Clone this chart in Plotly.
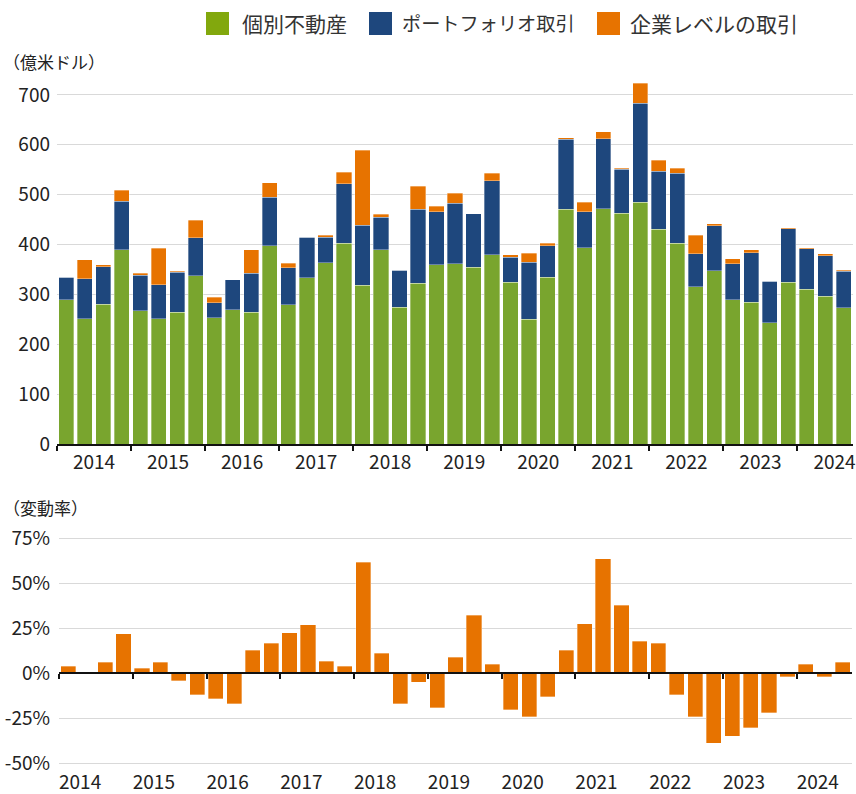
import plotly.graph_objects as go

# ---------------- data ----------------
years = [2014, 2015, 2016, 2017, 2018, 2019, 2020, 2021, 2022, 2023, 2024]
quarters = [f"{y}Q{q}" for y in years for q in range(1, 5)][:43]

individual = [289, 251, 280, 390, 267, 251, 264, 337, 253, 269, 264, 398,
              279, 333, 364, 403, 318, 390, 274, 322, 359, 361, 354, 380,
              324, 250, 334, 471, 394, 472, 463, 485, 431, 403, 315, 347,
              289, 284, 243, 324, 310, 296, 273]
portfolio = [45, 80, 75, 97, 71, 68, 80, 77, 30, 60, 78, 97,
             74, 82, 51, 119, 121, 65, 74, 149, 107, 122, 108, 148,
             51, 115, 64, 140, 72, 140, 88, 198, 116, 140, 67, 91,
             73, 100, 83, 108, 82, 82, 73]
entity = [0, 39, 4, 22, 4, 74, 2, 35, 11, 0, 48, 29,
          10, 0, 4, 23, 150, 6, 0, 46, 11, 20, 0, 15,
          5, 18, 5, 3, 19, 14, 2, 40, 22, 10, 37, 4,
          10, 6, 0, 2, 2, 4, 2]
change_pct = [3.9, 0.6, 5.9, 21.9, 2.8, 5.9, -4.3, -12.0, -14.3, -16.9,
              12.6, 16.5, 22.4, 26.9, 6.5, 3.9, 61.5, 10.9, -16.9, -5.0,
              -19.3, 8.9, 32.2, 5.0, -20.4, -24.3, -13.1, 12.6, 27.4, 63.5,
              37.8, 17.6, 16.5, -12.0, -24.3, -38.9, -35.0, -30.2, -21.9, -2.0,
              5.0, -2.0, 6.1]

series_names = ["個別不動産", "ポートフォリオ取引", "企業レベルの取引"]
top_ticks = [0, 100, 200, 300, 400, 500, 600, 700]
bottom_ticks = [-50, -25, 0, 25, 50, 75]
bottom_ticktext = [f"{v}%" for v in bottom_ticks]
top_title = "（億米ドル）"
bottom_title = "（変動率）"

# ---------------- styling / layout ----------------
GREEN = "#79a52e"
BLUE = "#1e477d"
ORANGE = "#e77300"
LEG_GREEN = "#82a80d"
GRID = "#d9d9d9"
AXIS = "#111111"
TXT = "#222222"
FONT = "Noto Sans CJK JP"

W, H = 856, 794
ML, MR, MT, MB = 57, 3, 80, 29
PW = W - ML - MR
PH = H - MT - MB


def px_x(p):
    return (p - ML) / PW


def px_y(p):
    return (H - MB - p) / PH


xs = list(range(len(quarters)))
year_starts = [i - 0.5 for i, q in enumerate(quarters) if q.endswith("Q1")]
year_labels = [q[:4] for q in quarters if q.endswith("Q1")]
year_centers = [b + 2 for b in year_starts]
XR = [-0.5, len(quarters) - 0.5]

Y1_RANGE = [0, 730]
Y2_RANGE = [-51, 80]
y1dom = [px_y(444), 1.0]
y2dom = [0.0, px_y(529)]
x2dom = [px_x(59), px_x(852)]
zero_pos = y2dom[0] + (0 - Y2_RANGE[0]) / (Y2_RANGE[1] - Y2_RANGE[0]) * (y2dom[1] - y2dom[0])

bar_line = dict(width=0.6, color="rgba(255,255,255,0.55)")

fig = go.Figure()
for vals, name, col in zip([individual, portfolio, entity], series_names, [GREEN, BLUE, ORANGE]):
    fig.add_trace(go.Bar(x=xs, y=vals, name=name, marker=dict(color=col, line=bar_line),
                         customdata=quarters, hovertemplate="%{customdata}: %{y}<extra>" + name + "</extra>",
                         xaxis="x", yaxis="y", showlegend=False))

fig.add_trace(go.Bar(x=xs, y=change_pct, name="変動率", marker=dict(color=ORANGE, line=bar_line),
                     customdata=quarters, hovertemplate="%{customdata}: %{y}%<extra></extra>",
                     xaxis="x2", yaxis="y2", showlegend=False))
# carrier for the zero-line axis
fig.add_trace(go.Scatter(x=[None], y=[None], xaxis="x3", yaxis="y2", showlegend=False, hoverinfo="skip"))

tickfont = dict(family=FONT, size=19, color=TXT)

fig.update_layout(
    width=W, height=H,
    margin=dict(l=ML, r=MR, t=MT, b=MB),
    paper_bgcolor="white", plot_bgcolor="white",
    barmode="stack", bargap=0.18,
    font=dict(family=FONT, color=TXT),
    showlegend=False,
    xaxis=dict(domain=[0, 1], range=XR, anchor="y", showgrid=False, zeroline=False,
               showline=True, linecolor=AXIS, linewidth=2,
               tickmode="array", tickvals=year_centers, ticktext=year_labels, ticks="",
               tickfont=tickfont, automargin=False,
               minor=dict(tickmode="array", tickvals=year_starts, ticks="outside", ticklen=5,
                          tickwidth=1.5, tickcolor=AXIS, showgrid=False)),
    yaxis=dict(domain=y1dom, range=Y1_RANGE, anchor="x", tickmode="array", tickvals=top_ticks,
               showgrid=True, gridcolor=GRID, gridwidth=1.2, zeroline=False, showline=False,
               ticks="", tickfont=tickfont, automargin=False, ticklabelstandoff=6),
    xaxis2=dict(domain=x2dom, range=XR, anchor="y2", showgrid=False, zeroline=False, showline=False,
                tickmode="array", tickvals=year_starts, ticktext=year_labels, ticks="",
                ticklabelposition="outside right", ticklabelstandoff=4,
                tickfont=tickfont, automargin=False),
    xaxis3=dict(domain=x2dom, range=XR, overlaying="x2", anchor="free", position=zero_pos,
                showgrid=False, zeroline=False, showline=True, linecolor=AXIS, linewidth=2,
                tickmode="array", tickvals=year_starts, ticks="outside", ticklen=5, tickwidth=1.5,
                tickcolor=AXIS, showticklabels=False, automargin=False),
    yaxis2=dict(domain=y2dom, range=Y2_RANGE, anchor="x2", tickmode="array", tickvals=bottom_ticks,
                ticktext=bottom_ticktext, showgrid=True, gridcolor=GRID, gridwidth=1.2,
                zeroline=False, showline=False, ticks="", tickfont=tickfont, automargin=False,
                ticklabelstandoff=8),
)

# axis titles
fig.add_annotation(text=top_title, xref="paper", yref="paper", x=px_x(1), y=px_y(62),
                   xanchor="left", yanchor="middle", showarrow=False,
                   font=dict(family=FONT, size=17, color=TXT))
fig.add_annotation(text=bottom_title, xref="paper", yref="paper", x=px_x(1), y=px_y(507),
                   xanchor="left", yanchor="middle", showarrow=False,
                   font=dict(family=FONT, size=17, color=TXT))

# custom legend (large swatches)
legend_items = [(LEG_GREEN, 206, 240, 21), (BLUE, 369, 400, 19.2), (ORANGE, 597, 628, 21)]
for (col, sq_left, txt_left, fsize), name in zip(legend_items, series_names):
    fig.add_shape(type="rect", xref="paper", yref="paper",
                  x0=px_x(sq_left), x1=px_x(sq_left + 23), y0=px_y(35), y1=px_y(12),
                  fillcolor=col, line=dict(width=0))
    fig.add_annotation(text=name, xref="paper", yref="paper", x=px_x(txt_left), y=px_y(23.5),
                       xanchor="left", yanchor="middle", showarrow=False,
                       font=dict(family=FONT, size=fsize, color="#333333"))

fig.write_html("out.html", config={"displayModeBar": False},
               post_script="document.body.style.margin='0';document.body.style.overflow='hidden';")
